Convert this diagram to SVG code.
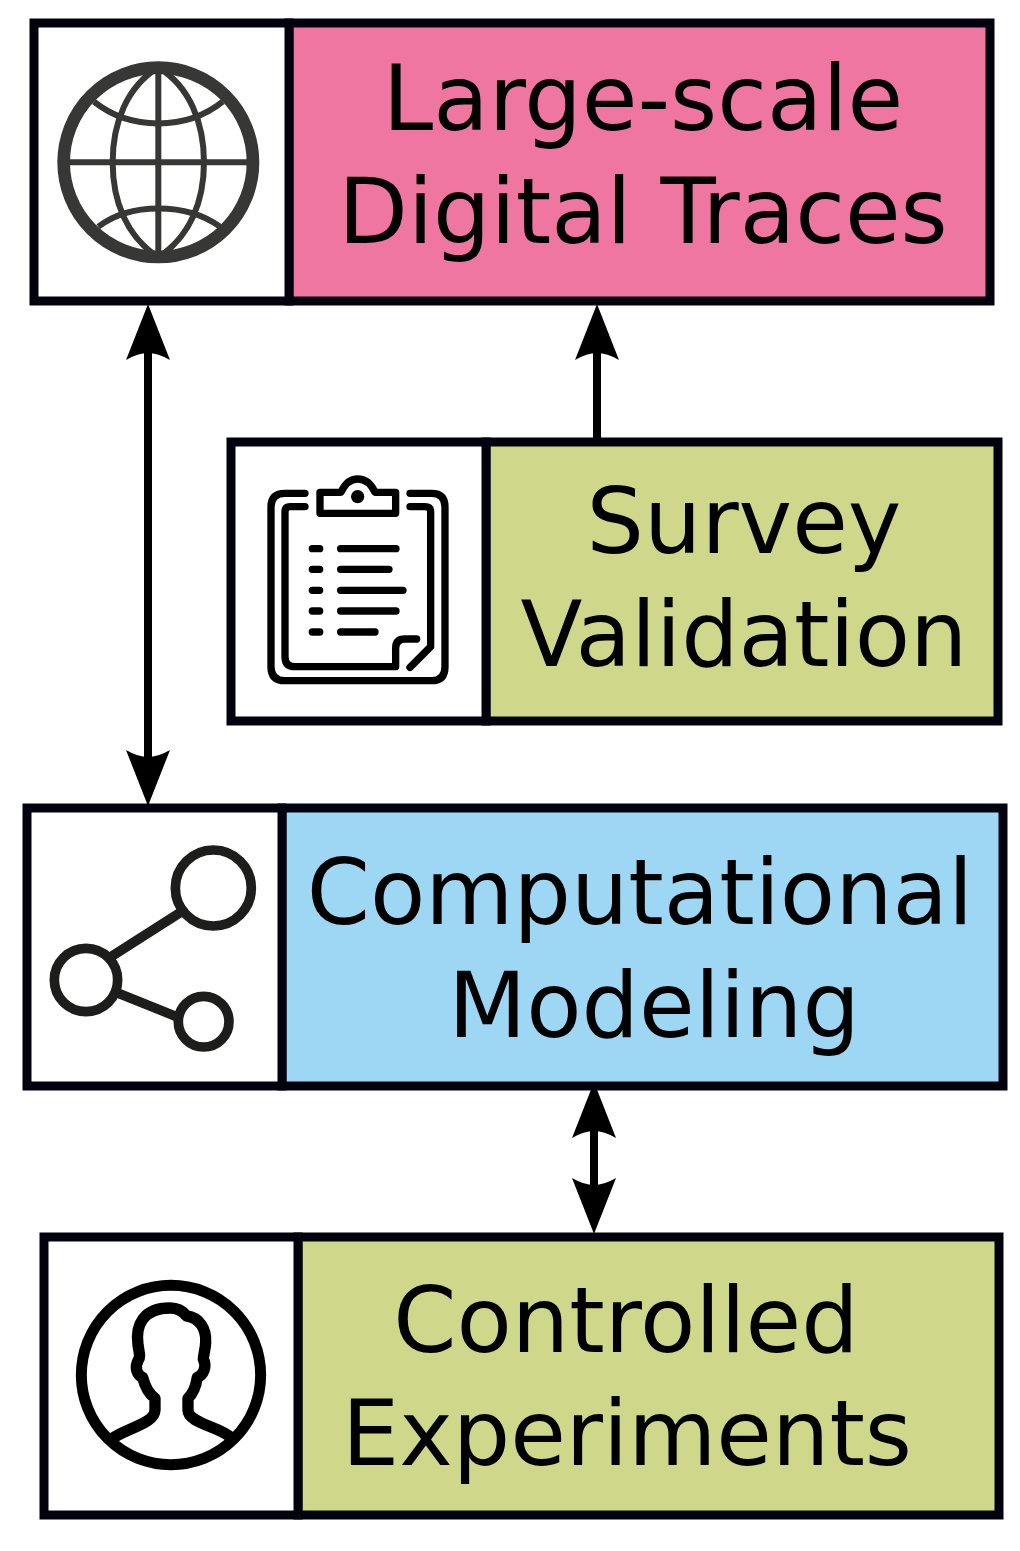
<svg xmlns="http://www.w3.org/2000/svg" width="1020" height="1551" viewBox="0 0 1020 1551">
<style>
.box{stroke:#02020f;stroke-width:9}
.icon{fill:#fff}
.t{font-family:"DejaVu Sans",sans-serif;font-size:90.5px;fill:#000;text-anchor:middle}
.c{stroke:#000;stroke-width:8;fill:none}
.ah{fill:#000}
.i{fill:none;stroke-linecap:round;stroke-linejoin:round}
</style>
<defs>
<path id="head" class="ah" d="M0 0L22 56Q10 49 0 49Q-10 49 -22 56Z"/>
</defs>
<rect width="1020" height="1551" fill="#fff"/>
<g id="connectors">
<path class="c" d="M148 340V770"/>
<use href="#head" x="148" y="304"/>
<use href="#head" transform="translate(148 806) scale(1 -1)"/>
<path class="c" d="M597 340V438"/>
<use href="#head" x="597" y="304"/>
<path class="c" d="M594 1120V1200"/>
<use href="#head" x="594" y="1082"/>
<use href="#head" transform="translate(594 1234) scale(1 -1)"/>
</g>
<g id="node-traces">
<rect class="box" x="289" y="23" width="701" height="278" fill="#ef76a0"/>
<rect class="box icon" x="34" y="23" width="255" height="278"/>
<g transform="translate(20 10) scale(.3333)" fill="none" stroke="#373735">
<circle cx="415" cy="457" r="284" stroke-width="38"/>
<g stroke-width="18">
<path d="M140 457H690M415 175V740"/>
<path d="M415 172C320 230 278 340 278 457C278 575 320 680 415 742M415 172C510 230 552 340 552 457C552 575 510 680 415 742"/>
<path d="M222 275C330 362 500 362 608 275M235 650C330 577 500 577 600 650"/>
</g>
</g>
<text class="t" x="643" y="130">Large-scale</text>
<text class="t" x="643" y="243">Digital Traces</text>
</g>
<g id="node-survey">
<rect class="box" x="486" y="442" width="512" height="279" fill="#cfd88a"/>
<rect class="box icon" x="231" y="442" width="255" height="279"/>
<g transform="translate(225 435) scale(.3333)" class="i" stroke="#000" stroke-width="22">
<path d="M240 175H180Q138 175 138 215V695Q138 737 180 737H620Q660 737 660 695V215Q660 175 620 175H555"/>
<path d="M240 215H195Q180 215 180 230V665Q180 695 210 695H512V640Q512 612 540 612H575"/>
<path d="M555 215H600Q617 215 617 230V635L555 697"/>
<path d="M285 172V235H512V172H450C440 150 425 132 398 132C372 132 358 150 348 172Z"/>
<circle cx="398" cy="185" r="20" fill="#000" stroke="none"/>
<path d="M262 341H284M347 341H513M262 403H284M347 403H492M262 466H284M347 466H534M262 528H284M347 528H513M262 591H284M347 591H450"/>
</g>
<text class="t" x="744" y="553">Survey</text>
<text class="t" x="744" y="666">Validation</text>
</g>
<g id="node-modeling">
<rect class="box" x="282" y="808" width="721" height="278" fill="#9dd7f3"/>
<rect class="box icon" x="27" y="808" width="255" height="278"/>
<g transform="translate(20 800) scale(.3333)" fill="none" stroke="#1d1d1b" stroke-width="29">
<circle cx="580" cy="264" r="114"/>
<circle cx="198" cy="540" r="95"/>
<circle cx="551" cy="665" r="76"/>
<path d="M270 472L485 335M295 580L470 650"/>
</g>
<text class="t" x="640" y="924">Computational</text>
<text class="t" x="654" y="1037">Modeling</text>
</g>
<g id="node-experiments">
<rect class="box" x="298" y="1237" width="701" height="278" fill="#cfd88a"/>
<rect class="box icon" x="44" y="1237" width="254" height="278"/>
<g transform="translate(40 1230) scale(.3333)" class="i" stroke="#000">
<circle cx="393" cy="435" r="269" stroke-width="33"/>
<path stroke-width="34" d="M218 625C260 595 345 580 345 540V505C325 490 315 470 308 442C292 435 282 415 295 390C302 380 298 370 294 345C286 285 310 234 390 234C415 234 430 245 440 258C480 262 499 300 497 335C497 355 490 375 490 388C502 410 490 435 472 442C468 470 460 490 444 505V540C444 580 540 590 572 622"/>
</g>
<text class="t" x="626" y="1352">Controlled</text>
<text class="t" x="627" y="1465">Experiments</text>
</g>
</svg>
